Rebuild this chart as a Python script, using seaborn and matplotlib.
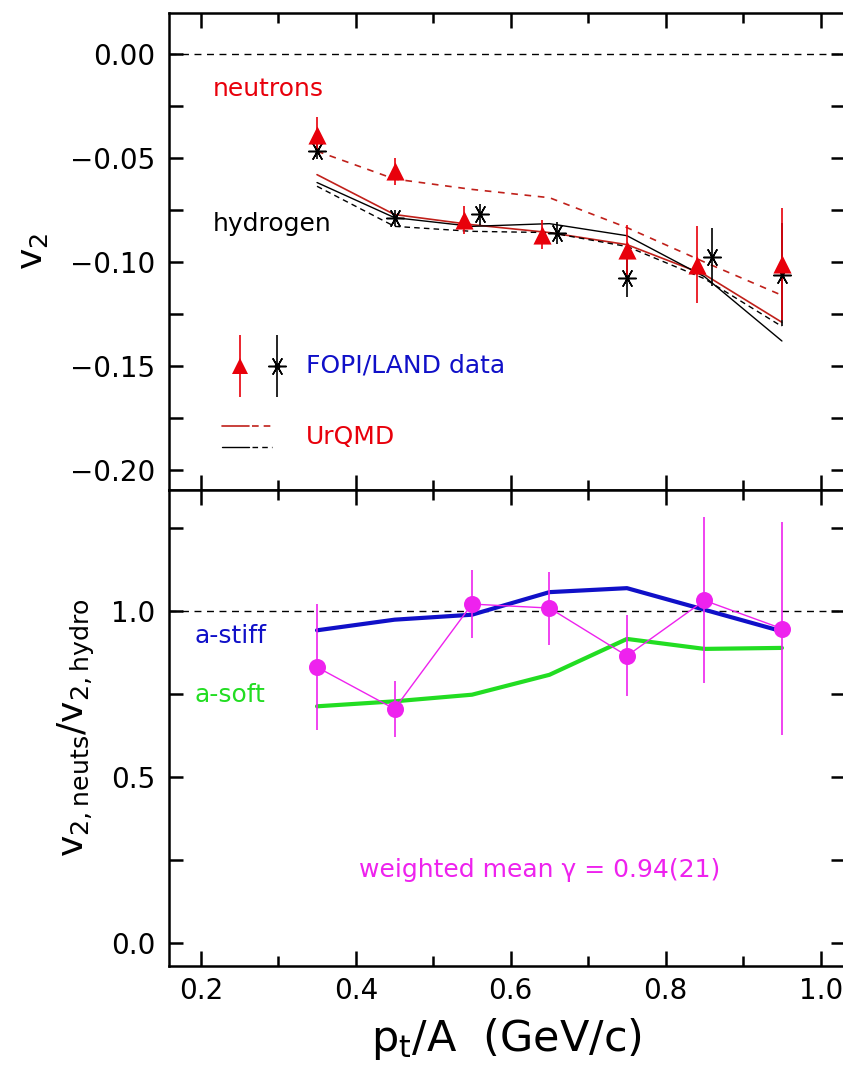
import numpy as np
import pandas as pd
import matplotlib
matplotlib.use("Agg")
import matplotlib.pyplot as plt
import seaborn as sns

# ---------------- data ----------------
# top panel: FOPI/LAND data
neut_x = [0.35, 0.45, 0.54, 0.64, 0.75, 0.84, 0.95]
neut_v2 = [-0.0386, -0.0563, -0.0796, -0.0868, -0.0940, -0.1013, -0.1010]
neut_err = [0.0085, 0.0065, 0.0068, 0.0070, 0.0120, 0.0185, 0.0270]

hyd_x = [0.35, 0.45, 0.56, 0.66, 0.75, 0.86, 0.95]
hyd_v2 = [-0.0463, -0.0787, -0.0770, -0.0860, -0.1075, -0.0977, -0.1060]
hyd_err = [0.0040, 0.0040, 0.0050, 0.0055, 0.0095, 0.0140, 0.0250]

# UrQMD curves
urqmd_x = [0.35, 0.45, 0.55, 0.65, 0.75, 0.85, 0.95]
urqmd_neut_solid = [-0.0579, -0.0771, -0.0820, -0.0858, -0.0916, -0.1060, -0.1290]
urqmd_neut_dash = [-0.0466, -0.0600, -0.0650, -0.0690, -0.0834, -0.1000, -0.1160]
urqmd_hyd_solid = [-0.0617, -0.0786, -0.0828, -0.0815, -0.0873, -0.1070, -0.1380]
urqmd_hyd_dash = [-0.0635, -0.0828, -0.0852, -0.0858, -0.0925, -0.1080, -0.1310]

# bottom panel: ratio
ratio_x = [0.35, 0.45, 0.55, 0.65, 0.75, 0.85, 0.95]
ratio = [0.830, 0.704, 1.020, 1.008, 0.864, 1.031, 0.946]
ratio_err = [0.190, 0.085, 0.102, 0.110, 0.122, 0.250, 0.320]
stiff = [0.941, 0.973, 0.988, 1.056, 1.068, 1.003, 0.938]
soft = [0.712, 0.727, 0.747, 0.807, 0.915, 0.885, 0.888]

xticks = [0.2, 0.4, 0.6, 0.8, 1.0]
xtick_labels = ["0.2", "0.4", "0.6", "0.8", "1.0"]
top_yticks = [0.00, -0.05, -0.10, -0.15, -0.20]
top_ylabels = ["0.00", "\u22120.05", "\u22120.10", "\u22120.15", "\u22120.20"]
bot_yticks = [0.0, 0.5, 1.0]
bot_ylabels = ["0.0", "0.5", "1.0"]

# ---------------- style ----------------
sns.set_style("ticks")
plt.rcParams["font.family"] = ["DejaVu Sans"]
plt.rcParams["axes.linewidth"] = 1.6
plt.rcParams["text.color"] = "black"
plt.rcParams["axes.labelcolor"] = "black"
plt.rcParams["xtick.color"] = "black"
plt.rcParams["ytick.color"] = "black"
plt.rcParams["axes.edgecolor"] = "black"

RED = "#e8000b"
RED_LINE = "#c0201a"
BLUE = "#1010c8"
GREEN = "#22dd22"
MAG = "#ee22ee"

fig = plt.figure(figsize=(8.43, 10.72), dpi=100)
L, R = 0.2005, 1.002
ax1 = fig.add_axes([L, 0.543, R - L, 0.988 - 0.543])
ax2 = fig.add_axes([L, 0.099, R - L, 0.543 - 0.099])

XLIM = (0.159, 1.031)
star = (6, 2, 90)

# ---------------- top panel ----------------
ax1.axhline(0.0, color="black", lw=1.0, ls=(0, (5, 4)))

def curve(ax, xs, ys, color, ls, lw):
    df = pd.DataFrame({"x": xs, "y": ys})
    sns.lineplot(data=df, x="x", y="y", ax=ax, color=color, lw=lw,
                 linestyle=ls, estimator=None, sort=False, legend=False)

curve(ax1, urqmd_x, urqmd_neut_dash, RED_LINE, (0, (4, 4)), 1.2)
curve(ax1, urqmd_x, urqmd_neut_solid, RED_LINE, "-", 1.2)
curve(ax1, urqmd_x, urqmd_hyd_solid, "black", "-", 1.0)
curve(ax1, urqmd_x, urqmd_hyd_dash, "black", (0, (4, 3)), 1.0)

ax1.errorbar(hyd_x, hyd_v2, yerr=hyd_err, fmt="none", ecolor="black", elinewidth=1.2)
ax1.errorbar(neut_x, neut_v2, yerr=neut_err, fmt="none", ecolor=RED, elinewidth=1.2)
df_h = pd.DataFrame({"x": hyd_x, "y": hyd_v2})
sns.scatterplot(data=df_h, x="x", y="y", ax=ax1, marker=star, s=160,
                color="black", linewidth=1.1, zorder=5, legend=False)
sns.scatterplot(data=df_h, x="x", y="y", ax=ax1, marker="o", s=10,
                color="black", linewidth=0, zorder=6, legend=False)
df_n = pd.DataFrame({"x": neut_x, "y": neut_v2})
sns.scatterplot(data=df_n, x="x", y="y", ax=ax1, marker="^", s=170,
                color=RED, linewidth=0, zorder=6, legend=False)

# legend-like annotations
ax1.errorbar([0.25], [-0.150], yerr=[0.015], fmt="^", color=RED, ms=12,
             elinewidth=1.2, mew=0)
ax1.errorbar([0.299], [-0.150], yerr=[0.015], fmt="none", ecolor="black", elinewidth=1.2)
ax1.scatter([0.299], [-0.150], marker=star, s=160, color="black", linewidths=1.1, zorder=5)
ax1.scatter([0.299], [-0.150], marker="o", s=10, color="black", zorder=6)
ax1.text(0.336, -0.150, "FOPI/LAND data", color=BLUE, fontsize=18, va="center", ha="left")
ax1.plot([0.228, 0.262], [-0.179, -0.179], color=RED_LINE, lw=1.2)
ax1.plot([0.266, 0.292], [-0.179, -0.179], color=RED_LINE, lw=1.2, ls=(0, (4, 3)))
ax1.plot([0.228, 0.262], [-0.189, -0.189], color="black", lw=1.0)
ax1.plot([0.266, 0.292], [-0.189, -0.189], color="black", lw=1.0, ls=(0, (4, 3)))
ax1.text(0.336, -0.184, "UrQMD", color=RED, fontsize=18, va="center", ha="left")
ax1.text(0.216, -0.0165, "neutrons", color=RED, fontsize=18, va="center", ha="left")
ax1.text(0.216, -0.0815, "hydrogen", color="black", fontsize=18, va="center", ha="left")

ax1.set_xlim(*XLIM)
ax1.set_ylim(-0.2097, 0.020)
ax1.set_yticks(top_yticks)
ax1.set_yticklabels(top_ylabels)
ax1.set_yticks(np.arange(-0.2, 0.02, 0.025), minor=True)
ax1.set_xticks(xticks)
ax1.set_xticklabels([])
ax1.set_xticks([0.3, 0.5, 0.7, 0.9], minor=True)
ax1.set_xlabel("")
ax1.set_ylabel("v$_\\mathregular{2}$", fontsize=26, labelpad=14)

# ---------------- bottom panel ----------------
ax2.axhline(1.0, color="black", lw=1.0, ls=(0, (5, 4)))
curve(ax2, ratio_x, stiff, BLUE, "-", 3.0)
curve(ax2, ratio_x, soft, GREEN, "-", 3.0)
curve(ax2, ratio_x, ratio, MAG, "-", 1.0)
ax2.errorbar(ratio_x, ratio, yerr=ratio_err, fmt="none", ecolor=MAG, elinewidth=1.2)
df_r = pd.DataFrame({"x": ratio_x, "y": ratio})
sns.scatterplot(data=df_r, x="x", y="y", ax=ax2, marker="o", s=150,
                color=MAG, linewidth=0, zorder=6, legend=False)

ax2.text(0.192, 0.925, "a-stiff", color=BLUE, fontsize=18, va="center", ha="left")
ax2.text(0.192, 0.747, "a-soft", color=GREEN, fontsize=18, va="center", ha="left")
ax2.text(0.637, 0.22, "weighted mean \u03b3 = 0.94(21)", color=MAG, fontsize=18,
         va="center", ha="center")

ax2.set_xlim(*XLIM)
ax2.set_ylim(-0.07, 1.364)
ax2.set_yticks(bot_yticks)
ax2.set_yticklabels(bot_ylabels)
ax2.set_yticks([0.25, 0.75, 1.25], minor=True)
ax2.set_xticks(xticks)
ax2.set_xticklabels(xtick_labels)
ax2.set_xticks([0.3, 0.5, 0.7, 0.9], minor=True)
ax2.set_xlabel("p$_\\mathregular{t}$/A  (GeV/c)", fontsize=31, labelpad=8)
ax2.set_ylabel("v$_\\mathregular{2,neuts}$/v$_\\mathregular{2,hydro}$", fontsize=26, labelpad=10)

for ax in (ax1, ax2):
    for s in ax.spines.values():
        s.set_visible(True)
        s.set_linewidth(1.8)
        s.set_color("black")
    ax.tick_params(axis="both", which="both", direction="in", top=True, right=True,
                   width=1.8, labelsize=20, colors="black")
    ax.tick_params(axis="x", which="major", length=11, pad=8)
    ax.tick_params(axis="x", which="minor", length=7)
    ax.tick_params(axis="y", which="both", length=10, pad=10)

fig.savefig("out.png", dpi=100)
